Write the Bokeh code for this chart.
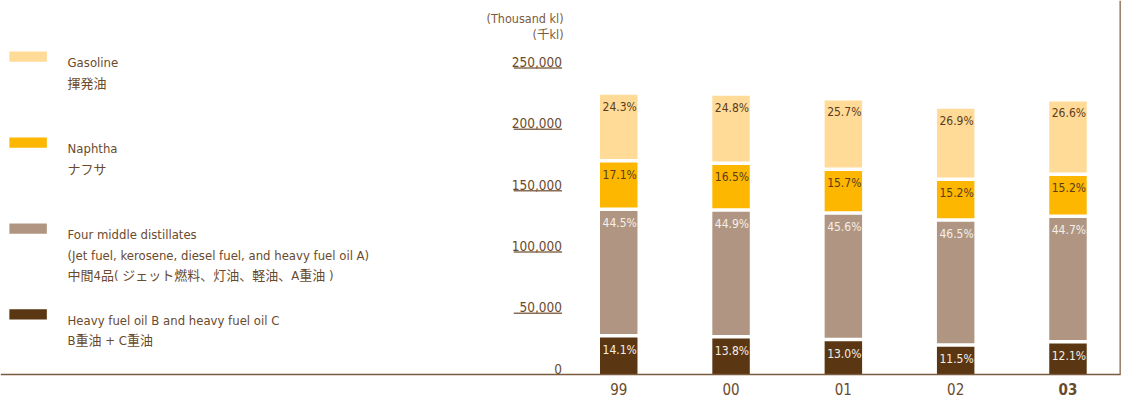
from bokeh.plotting import figure
from bokeh.models import ColumnDataSource, Range1d
from bokeh.transform import stack, dodge
from bokeh.core.properties import value
from bokeh.embed import file_html
from bokeh.resources import INLINE

# ---------------- data (thousand kl) ----------------
years = ["99", "00", "01", "02", "03"]
year_style = ["normal", "normal", "normal", "normal", "bold"]
heavy = [31600, 30800, 28500, 24100, 26800]
middle = [103300, 103500, 103300, 102000, 102400]
naphtha = [39500, 38000, 35700, 33200, 34100]
gasoline = [53800, 55100, 56100, 57500, 59500]
heavy_pct = ["14.1%", "13.8%", "13.0%", "11.5%", "12.1%"]
middle_pct = ["44.5%", "44.9%", "45.6%", "46.5%", "44.7%"]
naphtha_pct = ["17.1%", "16.5%", "15.7%", "15.2%", "15.2%"]
gasoline_pct = ["24.3%", "24.8%", "25.7%", "26.9%", "26.6%"]
y_ticks = [0, 50000, 100000, 150000, 200000, 250000]
y_tick_labels = ["0", "50,000", "100,000", "150,000", "200,000", "250,000"]
unit_labels = ["(Thousand kl)", "(千kl)"]
legend_lines = [
    ["Gasoline", "揮発油"],
    ["Naphtha", "ナフサ"],
    ["Four middle distillates",
     "(Jet fuel, kerosene, diesel fuel, and heavy fuel oil A)",
     "中間4品( ジェット燃料、灯油、軽油、A重油 )"],
    ["Heavy fuel oil B and heavy fuel oil C", "B重油 + C重油"],
]

# ---------------- styles ----------------
series = ["heavy", "middle", "naphtha", "gasoline"]
colors = ["#5A3612", "#B09682", "#FDB700", "#FFDB97"]
legend_colors = ["#FFDB97", "#FDB700", "#B09682", "#5A3612"]
pct_colors = ["#F5EFE8", "#F5EFE8", "#5B3B1C", "#5B3B1C"]
TEXT = "#6A4A2D"
FONT = "'DejaVu Sans Condensed', 'Noto Sans CJK JP', sans-serif"

W, H = 1130, 400
# layout space (design units, scaled to the canvas)
DW, DH = 1146, 416
X0, X_STEP = 627.0, 113.9          # centre of first bar, spacing
BASE, PX_PER_50K = 389.0, 63.75    # y of zero line, units per 50,000
kpp = 50000.0 / PX_PER_50K
x_start = (0 - X0) / X_STEP
x_end = (DW - X0) / X_STEP
y_start = (BASE - DH) * kpp
y_end = BASE * kpp

p = figure(width=W, height=H, output_backend="svg", toolbar_location=None,
           x_range=Range1d(x_start, x_end), y_range=Range1d(y_start, y_end),
           x_axis_location=None, y_axis_location=None, min_border=0)
p.grid.visible = False
p.outline_line_color = None
p.background_fill_color = "white"
p.border_fill_color = "white"
p.extra_x_ranges = {"px": Range1d(0, DW)}
p.extra_y_ranges = {"px": Range1d(DH, 0)}

src = ColumnDataSource(dict(
    x=list(range(len(years))), year=years, style=year_style,
    heavy=heavy, middle=middle, naphtha=naphtha, gasoline=gasoline,
    heavy_pct=heavy_pct, middle_pct=middle_pct,
    naphtha_pct=naphtha_pct, gasoline_pct=gasoline_pct,
))

BAR_W = 38.0 / X_STEP
p.vbar_stack(series, x="x", width=BAR_W, color=colors, line_color=None, source=src)

# white gaps between stacked segments
for i in range(len(series) - 1):
    p.segment(x0=dodge("x", -BAR_W, range=p.x_range), x1=dodge("x", BAR_W, range=p.x_range),
              y0=stack(*series[:i + 1]), y1=stack(*series[:i + 1]),
              line_color="white", line_width=3.5, source=src)

# percentage labels at top-left of each segment
for i, s in enumerate(series):
    p.text(x=dodge("x", -BAR_W / 2, range=p.x_range), y=stack(*series[:i + 1]),
           text=s + "_pct", source=src,
           x_offset=2.5, y_offset=(12.0 if i == 3 else 14.0),
           text_font=value(FONT), text_font_size="12px",
           text_color=pct_colors[i], text_align="left", text_baseline="alphabetic")

# year labels
p.text(x="x", y=404, y_range_name="px", text="year", source=src,
       text_font=value(FONT), text_font_size="15px", text_font_style="style",
       text_color=TEXT, text_align="center", text_baseline="middle")

# zero line and right edge
p.segment(x0=[0], x1=[1136], y0=[0], y1=[0], x_range_name="px",
          line_color="#7B5B3D", line_width=1.5)
p.segment(x0=[1135.5], x1=[1135.5], y0=[0], y1=[y_end], x_range_name="px",
          line_color="#7B5B3D", line_width=1.2)

# y tick labels with underline
p.text(x=[569.5] * len(y_ticks), y=y_ticks, text=y_tick_labels, x_range_name="px",
       y_offset=-6, text_font=value(FONT), text_font_size="13.5px",
       text_color=TEXT, text_align="right", text_baseline="alphabetic")
p.segment(x0=[520.5] * (len(y_ticks) - 1), x1=[569.5] * (len(y_ticks) - 1),
          y0=y_ticks[1:], y1=y_ticks[1:], x_range_name="px",
          line_color="#8A6D52", line_width=1.5)

# unit labels
p.text(x=[571, 571], y=[18.5, 35.5], text=unit_labels, x_range_name="px", y_range_name="px",
       text_font=value(FONT), text_font_size="12.5px", text_color="#7B5B40",
       text_align="right", text_baseline="alphabetic")

# legend (drawn in layout space)
item_tops = [53, 142.5, 232, 321]
lx, ly, lt = [], [], []
for top, lines in zip(item_tops, legend_lines):
    for j, line in enumerate(lines):
        lx.append(68)
        ly.append(top + 11.5 + j * 21.5)
        lt.append(line)
p.quad(left=[9] * 4, right=[47] * 4, top=item_tops, bottom=[t + 10.7 for t in item_tops],
       x_range_name="px", y_range_name="px", color=legend_colors, line_color=None)
p.text(x=lx, y=ly, text=lt, x_range_name="px", y_range_name="px",
       text_font=value(FONT), text_font_size="13px", text_color=TEXT,
       text_align="left", text_baseline="alphabetic")

open("out.html", "w").write(file_html(p, INLINE))
